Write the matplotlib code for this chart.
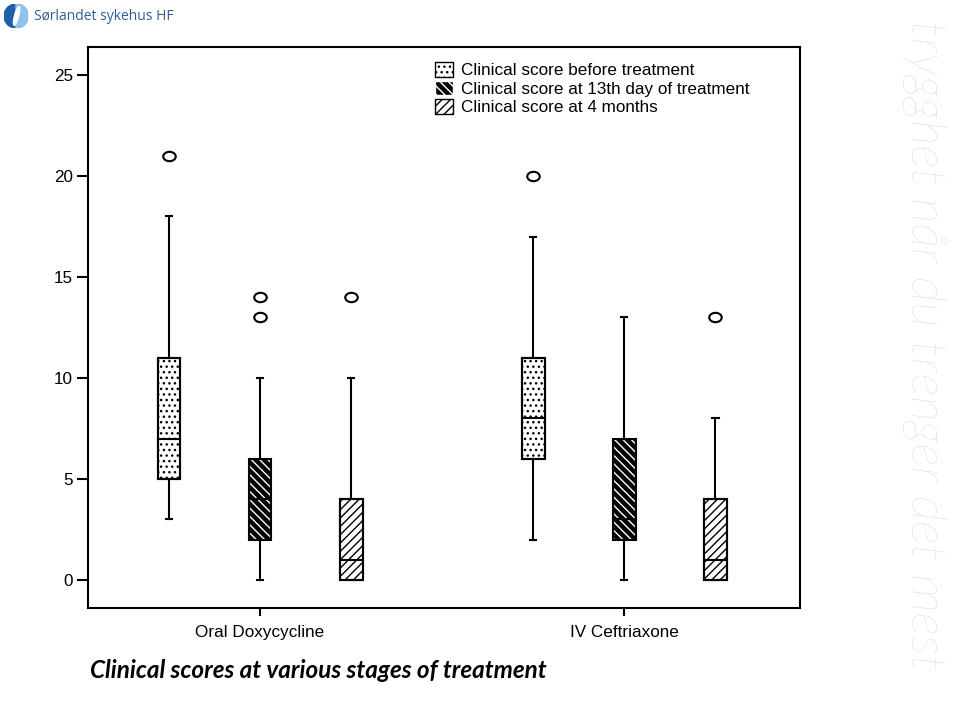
import matplotlib.pyplot as plt
import matplotlib.patches as mpatches
import matplotlib.path as mpath
import numpy as np

plt.rcParams['font.family'] = ['Liberation Sans', 'DejaVu Sans']
plt.rcParams['hatch.linewidth'] = 1.0

# dati
gruppi = ['Oral Doxycycline', 'IV Ceftriaxone']
serie = ['Clinical score before treatment',
         'Clinical score at 13th day of treatment',
         'Clinical score at 4 months']

# per ogni gruppo: prima, 13 giorni, 4 mesi
whislo = [[3, 0, 0], [2, 0, 0]]
q1 = [[5, 2, 0], [6, 2, 0]]
mediane = [[7, 4, 1], [8, 3, 1]]
q3 = [[11, 6, 4], [11, 7, 4]]
whishi = [[18, 10, 10], [17, 13, 8]]
outlier = [[[21], [13, 14], [14]], [[20], [], [13]]]

yticks = [0, 5, 10, 15, 20, 25]

stili = [
    dict(facecolor='white', edgecolor='black', hatch='...'),
    dict(facecolor='black', edgecolor='white', hatch='\\' * 4),
    dict(facecolor='white', edgecolor='black', hatch='/' * 4),
]

fig = plt.figure(figsize=(9.59, 7.2), dpi=100)
ax = fig.add_axes([88 / 959, 112 / 720, 712 / 959, 561 / 720])

centri = [1, 5]
stats = []
posizioni = []
for g in range(len(gruppi)):
    for s in range(len(serie)):
        stats.append(dict(whislo=whislo[g][s], q1=q1[g][s], med=mediane[g][s],
                          q3=q3[g][s], whishi=whishi[g][s], fliers=outlier[g][s]))
        posizioni.append(centri[g] + s - 1)

# marker ellittico per gli outlier
cerchio = mpath.Path.unit_circle()
ellisse = mpath.Path(cerchio.vertices * np.array([1.0, 0.75]), cerchio.codes)

out = ax.bxp(stats, positions=posizioni, widths=0.25, patch_artist=True,
             capwidths=0.07,
             boxprops=dict(linewidth=1.5),
             whiskerprops=dict(color='black', linewidth=1.5),
             capprops=dict(color='black', linewidth=1.5),
             medianprops=dict(color='black', linewidth=1.5),
             flierprops=dict(marker=ellisse, markersize=9, markerfacecolor='none',
                             markeredgecolor='black', markeredgewidth=1.5,
                             linestyle='none'))

for i, box in enumerate(out['boxes']):
    st = stili[i % 3]
    box.set_facecolor(st['facecolor'])
    box.set_edgecolor(st['edgecolor'])
    box.set_hatch(st['hatch'])
    # bordo nero sopra il tratteggio
    ax.add_patch(mpatches.PathPatch(box.get_path(), fill=False, edgecolor='black',
                                    linewidth=1.5, zorder=box.get_zorder() + 0.1))
for m in out['medians']:
    m.set_zorder(5)

ax.set_xlim(-0.89, 6.93)
ax.set_ylim(-1.39, 26.39)
ax.set_xticks(centri)
ax.set_xticklabels(gruppi, fontsize=12.3)
ax.set_yticks(yticks)
ax.set_yticklabels([str(v) for v in yticks], fontsize=12.3)
ax.tick_params(axis='y', length=8, width=1.5, pad=3)
ax.tick_params(axis='x', length=6, width=1.5, pad=6)
for sp in ax.spines.values():
    sp.set_linewidth(1.5)

maniglie = [mpatches.Patch(facecolor=st['facecolor'], edgecolor=st['edgecolor'],
                           hatch=st['hatch'], linewidth=1.0) for st in stili]
leg = ax.legend(maniglie, serie, loc='upper left', bbox_to_anchor=(0.478, 0.985),
                frameon=False, fontsize=12.3, handlelength=1.05, handleheight=0.95,
                handletextpad=0.45, labelspacing=0.12, borderaxespad=0)

# logo in alto a sinistra
ax_logo = fig.add_axes([4 / 959, 692 / 720, 24 / 959, 24 / 720])
ax_logo.set_xlim(-1, 1)
ax_logo.set_ylim(-1, 1)
ax_logo.set_aspect('equal')
ax_logo.axis('off')
ax_logo.add_patch(mpatches.Circle((0, 0), 1, color='#1f5fa8'))
ax_logo.add_patch(mpatches.Wedge((0, 0), 1, -90, 90, color='#8ec3ea'))
ax_logo.add_patch(mpatches.Ellipse((0.05, 0), 0.35, 1.6, angle=-15, color='white'))
fig.text(34 / 959, 1 - 16 / 720, 'Sørlandet sykehus HF', fontsize=10,
         family=['Open Sans', 'DejaVu Sans'], color='#2f5d95', va='center')

# scritta verticale a destra
fig.text(925 / 959, 1 - 345 / 720, 'trygghet når du trenger det mest', rotation=-90,
         fontsize=36, color='#d8d8d8', style='italic', ha='center', va='center',
         family=['Lato', 'DejaVu Sans'], fontweight='light')

fig.text(90 / 959, 1 - 671 / 720, 'Clinical scores at various stages of treatment',
         fontsize=17.5, fontweight='bold', style='italic', va='center',
         family=['Lato', 'DejaVu Sans'])

fig.savefig('out.png', dpi=100)
